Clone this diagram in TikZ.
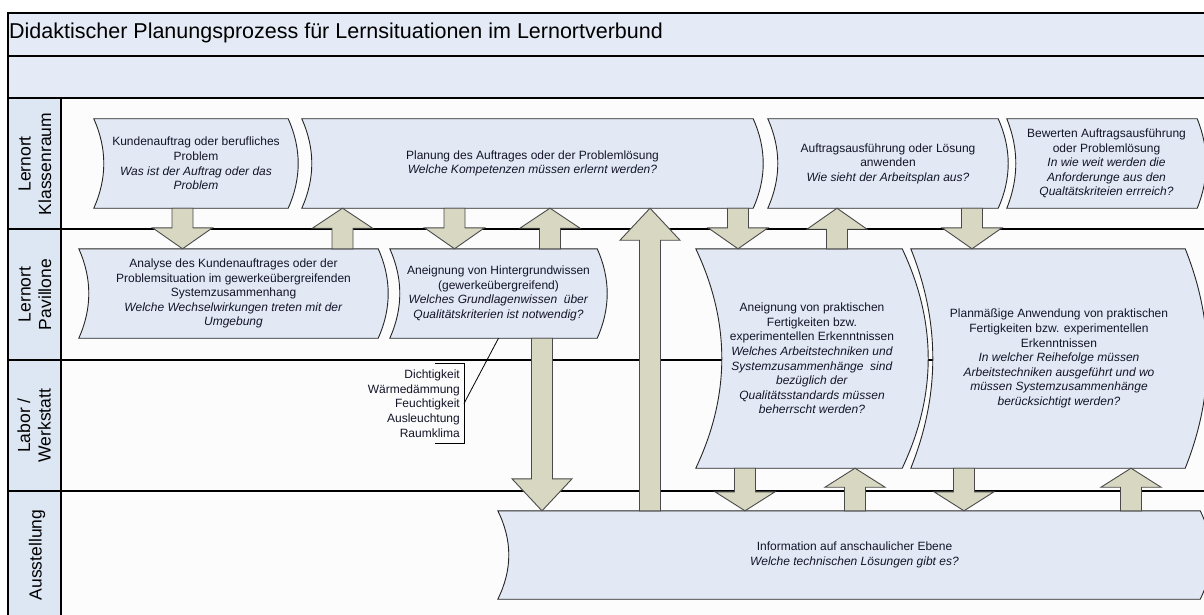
\documentclass[tikz,border=0pt]{standalone}
\usepackage{fontspec}
\setmainfont{Liberation Sans}
\usetikzlibrary{calc}
\definecolor{titlefill}{HTML}{E5EBF6}
\definecolor{labelfill}{HTML}{DDE6F3}
\definecolor{boxfill}{HTML}{E2E9F5}
\definecolor{arrfill}{HTML}{D8D8C2}
\definecolor{arrline}{HTML}{4A4A4A}
\definecolor{txt}{HTML}{141428}
\definecolor{lanebg}{HTML}{FCFCFC}
\pgfdeclarelayer{bg}
\pgfdeclarelayer{shp}
\pgfsetlayers{bg,shp,main}
\tikzset{
  boxtext/.style={inner sep=0pt, align=center, text=txt, font=\fontsize{12}{14.6}\selectfont},
  wavestyle/.style={fill=boxfill, draw=black!85, line width=0.9pt},
  blockarr/.style={fill=arrfill, draw=arrline, line width=0.9pt, line join=miter},
  lanelabel/.style={rotate=90, align=center, inner sep=0pt, font=\fontsize{17.5}{20.5}\selectfont, text=black},
  gridline/.style={draw=black, line width=1.2pt},
}
\newcommand\wavebox[2]{%
 \filldraw[wavestyle] let \p1=(#1.north west), \p2=(#1.south east) in
  ({\x1-0.5*#2pt},\y1) -- ({\x2-0.5*#2pt},\y1)
  .. controls ({\x2+0.8333*#2pt},{(2*\y1+\y2)/3}) and ({\x2+0.8333*#2pt},{(\y1+2*\y2)/3}) .. ({\x2-0.5*#2pt},\y2)
  -- ({\x1-0.5*#2pt},\y2)
  .. controls ({\x1+0.8333*#2pt},{(\y1+2*\y2)/3}) and ({\x1+0.8333*#2pt},{(2*\y1+\y2)/3}) .. ({\x1-0.5*#2pt},\y1) -- cycle;}
\newcommand\arrdown[4]{%
 \filldraw[blockarr] let \p1=(#2.south), \p2=(#3.north) in
  ({#1pt-10.5pt},\y1) -- ({#1pt+10.5pt},\y1) -- ({#1pt+10.5pt},{\y2+#4pt}) -- ({#1pt+30pt},{\y2+#4pt}) -- (#1pt,\y2) -- ({#1pt-30pt},{\y2+#4pt}) -- ({#1pt-10.5pt},{\y2+#4pt}) -- cycle;}
\newcommand\arrup[4]{%
 \filldraw[blockarr] let \p1=(#2.north), \p2=(#3.south) in
  ({#1pt-10.5pt},\y1) -- ({#1pt+10.5pt},\y1) -- ({#1pt+10.5pt},{\y2-#4pt}) -- ({#1pt+30pt},{\y2-#4pt}) -- (#1pt,\y2) -- ({#1pt-30pt},{\y2-#4pt}) -- ({#1pt-10.5pt},{\y2-#4pt}) -- cycle;}
\begin{document}
\begin{tikzpicture}[x=1pt,y=-1pt]
\useasboundingbox (0,0) rectangle (1204,615);
\clip (0,0) rectangle (1204,615);
\begin{pgfonlayer}{bg}
 \fill[white] (0,0) rectangle (1204,615);
 \fill[titlefill] (8,13) rectangle (1220,98);
 \fill[lanebg] (61,98) rectangle (1220,630);
 \fill[labelfill] (8,98) rectangle (61,630);
 \draw[gridline] (8,630) -- (8,13) -- (1220,13);
 \draw[gridline] (8,56) -- (1220,56);
 \draw[gridline] (8,98) -- (1220,98);
 \draw[gridline] (8,229) -- (1220,229);
 \draw[gridline] (8,360) -- (1220,360);
 \draw[gridline] (8,491) -- (1220,491);
 \draw[gridline] (61,98) -- (61,630);
\end{pgfonlayer}

\node[anchor=west, inner sep=0pt, font=\fontsize{21.5}{24}\selectfont] (title) at (9,33)
  {Didaktischer Planungsprozess für Lernsituationen im Lernortverbund};

\node[lanelabel] (L1) at (35,164) {Lernort\\Klassenraum};
\node[lanelabel] (L2) at (35,294.5) {Lernort\\Pavillone};
\node[lanelabel] (L3) at (34,425.5) {Labor /\\Werkstatt};
\node[lanelabel] (L4) at (37,555) {Ausstellung};

\node[boxtext, minimum width=194pt, minimum height=89pt] (K) at (196,163.5)
  {Kundenauftrag oder berufliches\\Problem\\\textit{Was ist der Auftrag oder das}\\\textit{Problem}};
\node[boxtext, minimum width=451pt, minimum height=89pt] (P) at (532.5,163.5)
  {Planung des Auftrages oder der Problemlösung\\\textit{Welche Kompetenzen müssen erlernt werden?}};
\node[boxtext, minimum width=230pt, minimum height=89pt] (A) at (888,163.5)
  {Auftragsausführung oder Lösung\\anwenden\\\textit{Wie sieht der Arbeitsplan aus?}};
\node[boxtext, minimum width=190pt, minimum height=89pt] (B) at (1106.5,163.5)
  {Bewerten Auftragsausführung\\oder Problemlösung\\\textit{In wie weit werden die}\\\textit{Anforderunge aus den}\\\textit{Qualtätskriteien errreich?}};
\node[boxtext, minimum width=299pt, minimum height=89pt] (An) at (233.5,293.5)
  {Analyse des Kundenauftrages oder der\\Problemsituation im gewerkeübergreifenden\\Systemzusammenhang\\\textit{Welche Wechselwirkungen treten mit der}\\\textit{Umgebung}};
\node[boxtext, minimum width=207pt, minimum height=89pt] (H) at (498.5,293.5)
  {Aneignung von Hintergrundwissen\\(gewerkeübergreifend)\\\textit{Welches Grundlagenwissen\ \ über}\\\textit{Qualitätskriterien ist notwendig?}};
\node[boxtext, minimum width=206pt, minimum height=219pt] (T1) at (812,358.5)
  {Aneignung von praktischen\\Fertigkeiten bzw.\\experimentellen Erkenntnissen\\\textit{Welches Arbeitstechniken und}\\\textit{Systemzusammenhänge\ \ sind}\\\textit{bezüglich der}\\\textit{Qualitätsstandards müssen}\\\textit{beherrscht werden?}};
\node[boxtext, minimum width=274pt, minimum height=219pt] (T2) at (1059,358.5)
  {Planmäßige Anwendung von praktischen\\Fertigkeiten bzw. experimentellen\\Erkenntnissen\\\textit{In welcher Reihefolge müssen}\\\textit{Arbeitstechniken ausgeführt und wo}\\\textit{müssen Systemzusammenhänge}\\\textit{berücksichtigt werden?}};
\node[boxtext, minimum width=702pt, minimum height=88pt] (I) at (854.5,555)
  {Information auf anschaulicher Ebene\\\textit{Welche technischen Lösungen gibt es?}};

\node[anchor=east, align=right, inner xsep=4pt, inner ysep=0pt, minimum height=79pt,
      font=\fontsize{12}{14.75}\selectfont, text=txt] (crit) at (464,403.5)
  {Dichtigkeit\\Wärmedämmung\\Feuchtigkeit\\Ausleuchtung\\Raumklima};
\draw[line width=0.9pt] ([xshift=-29pt]crit.north east) -- (crit.north east) -- (crit.south east) -- ([xshift=-29pt]crit.south east);
\draw[line width=0.8pt] (crit.east) -- (H.south);

\begin{pgfonlayer}{shp}
 \wavebox{K}{10}
 \wavebox{P}{10}
 \wavebox{A}{10}
 \wavebox{B}{9}
 \wavebox{An}{10}
 \wavebox{H}{10}
 \wavebox{T1}{26}
 \wavebox{T2}{22}
 \wavebox{I}{11}
 \arrdown{182.5}{K}{An}{21}
 \arrup{342.5}{An}{P}{20}
 \arrdown{454.5}{P}{H}{21}
 \arrup{550}{H}{P}{20}
 \arrup{650}{I}{P}{32}
 \arrdown{738}{P}{T1}{21}
 \arrup{837}{T1}{A}{21}
 \arrdown{972}{A}{T2}{21}
 \arrdown{542}{H}{I}{32}
 \arrdown{745}{T1}{I}{19}
 \arrup{855}{I}{T1}{19}
 \arrdown{964}{T2}{I}{19}
 \arrup{1131}{I}{T2}{19}
\end{pgfonlayer}
\end{tikzpicture}
\end{document}
